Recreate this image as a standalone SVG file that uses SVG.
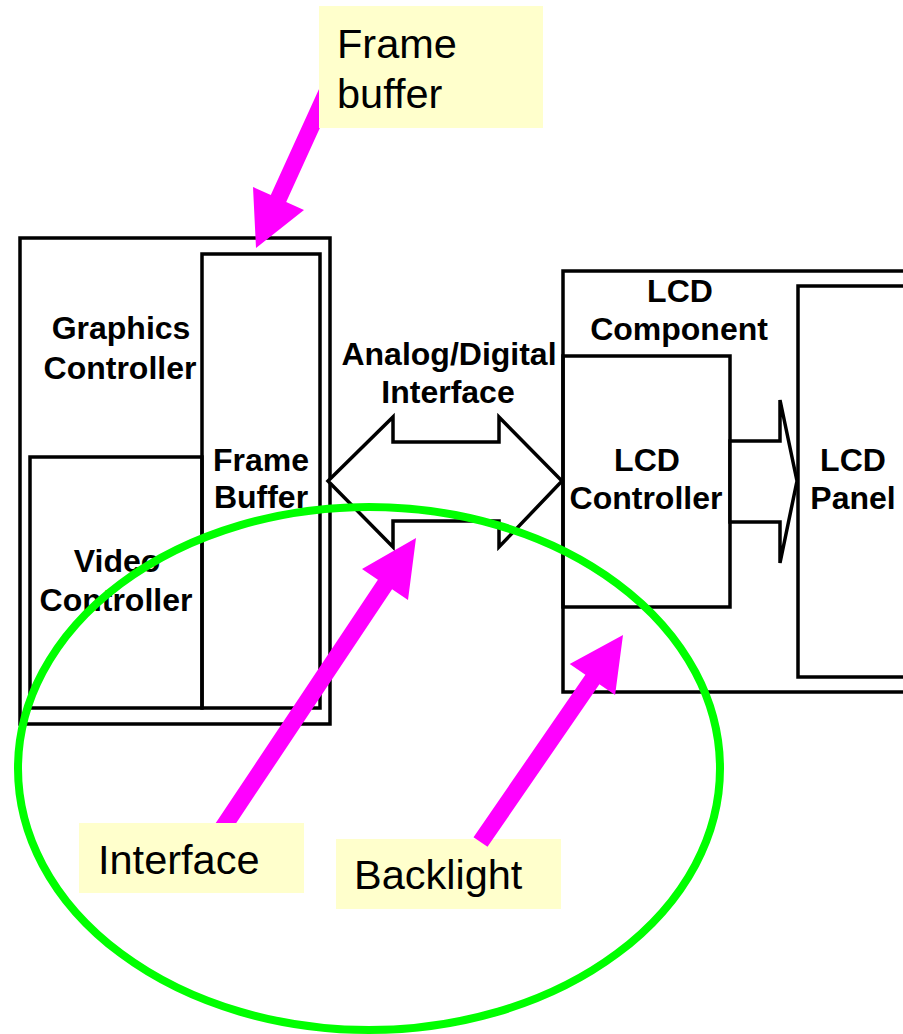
<svg xmlns="http://www.w3.org/2000/svg" width="903" height="1034" viewBox="0 0 903 1034">
<style>
.box{fill:none;stroke:#000;stroke-width:3.5}
.blk{fill:#fff;stroke:#000;stroke-width:3.5;stroke-linejoin:miter}
.lbl{font-family:"Liberation Sans",Arial,sans-serif;font-weight:bold;font-size:32px;fill:#000;text-anchor:middle}
.call{font-family:"Liberation Sans",Arial,sans-serif;font-size:41.5px;fill:#000}
.note{fill:#FFFFCC}
.mag{fill:#FF00FF}
</style>
<rect width="903" height="1034" fill="#fff"/>

<g id="graphics-controller">
  <rect class="box" x="20" y="238" width="310" height="486"/>
  <text class="lbl" x="121" y="339">Graphics</text>
  <text class="lbl" x="120" y="379">Controller</text>
</g>
<g id="video-controller">
  <rect class="box" x="30" y="457" width="172" height="251"/>
  <text class="lbl" x="117" y="572">Video</text>
  <text class="lbl" x="116" y="611">Controller</text>
</g>
<g id="frame-buffer">
  <rect class="box" x="202" y="254" width="118" height="454"/>
  <text class="lbl" x="261" y="471">Frame</text>
  <text class="lbl" x="261" y="508">Buffer</text>
</g>
<g id="lcd-component">
  <rect class="box" x="563" y="271" width="350" height="421"/>
  <text class="lbl" x="680" y="302">LCD</text>
  <text class="lbl" x="679" y="340">Component</text>
</g>
<g id="lcd-controller">
  <rect class="box" x="563" y="356" width="167" height="251"/>
  <text class="lbl" x="647" y="471">LCD</text>
  <text class="lbl" x="646" y="509">Controller</text>
</g>
<g id="lcd-panel">
  <rect class="box" x="798" y="286" width="115" height="391"/>
  <text class="lbl" x="853" y="471">LCD</text>
  <text class="lbl" x="853" y="509">Panel</text>
</g>

<g id="connectors">
  <polygon class="blk" points="328,481 393,417 393,442 499,442 499,417 562,481 499,547 499,521 393,521 393,547"/>
  <text class="lbl" x="449" y="365">Analog/Digital</text>
  <text class="lbl" x="448" y="403">Interface</text>
  <polygon class="blk" points="730,441 780,441 780,400 797,481 780,563 780,522 730,522"/>
</g>

<g id="callout-frame-buffer">
  <polygon class="mag" points="256,248 304,210 286.2,202 340,83.7 324.6,76.7 270.8,195 253,187"/>
  <rect class="note" x="319" y="6" width="224" height="122"/>
  <text class="call" x="337" y="58">Frame</text>
  <text class="call" x="337" y="108">buffer</text>
</g>

<g id="callout-interface">
  <polygon class="mag" points="416,538 408,600 392.1,589.2 225.1,839.7 210.9,830.3 377.9,579.8 362,569.1"/>
  <rect class="note" x="79" y="823" width="225" height="70"/>
  <text class="call" x="98" y="874">Interface</text>
</g>

<g id="callout-backlight">
  <rect class="note" x="336" y="839" width="225" height="70"/>
  <text class="call" x="354" y="889">Backlight</text>
  <polygon class="mag" points="623,635 615.1,695.1 599.4,684.3 487.5,846.8 473.5,837.2 585.4,674.7 569.7,663.9"/>
</g>

<g id="highlight">
  <ellipse cx="369" cy="768.5" rx="351" ry="261.5" fill="none" stroke="#00FF00" stroke-width="8"/>
</g>
</svg>
